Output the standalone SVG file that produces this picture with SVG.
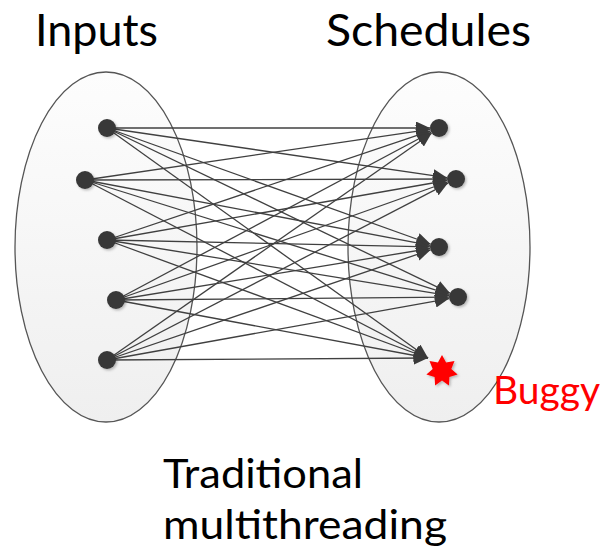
<svg xmlns="http://www.w3.org/2000/svg" width="607" height="555" viewBox="0 0 607 555">
  <defs>
    <linearGradient id="ellFill" x1="0" y1="0" x2="0" y2="1">
      <stop offset="0" stop-color="#fdfdfd"/>
      <stop offset="1" stop-color="#efefef"/>
    </linearGradient>
    <filter id="shadow" x="-50%" y="-50%" width="200%" height="200%">
      <feDropShadow dx="1.5" dy="1.5" stdDeviation="1.2" flood-color="#000" flood-opacity="0.25"/>
    </filter>
    <marker id="arrow" markerUnits="userSpaceOnUse" markerWidth="15" markerHeight="13" refX="14" refY="6.5" orient="auto">
      <path d="M0,0 L14,6.5 L0,13 z" fill="#3a3a3a"/>
    </marker>
  </defs>
  <style>
    .ell { fill: url(#ellFill); stroke: #555; stroke-width: 1.3; }
    .node { fill: #383838; filter: url(#shadow); }
    .edge { stroke: #404040; stroke-width: 1.3; fill: none; marker-end: url(#arrow); }
    .lbl { font-family: Lato, "Open Sans", "Liberation Sans", sans-serif; fill: #000; }
    .bug { font-family: Lato, "Open Sans", "Liberation Sans", sans-serif; fill: #ff0000; }
  </style>

  <g id="inputs-set"><ellipse class="ell" cx="106" cy="247" rx="91" ry="175"/></g>
  <g id="schedules-set"><ellipse class="ell" cx="439" cy="247" rx="91" ry="175"/></g>

  <g id="connectors">
    <line class="edge" x1="107" y1="128" x2="430" y2="128"/>
    <line class="edge" x1="107" y1="128" x2="447.1" y2="177.7"/>
    <line class="edge" x1="107" y1="128" x2="430.5" y2="244"/>
    <line class="edge" x1="107" y1="128" x2="449.9" y2="293.1"/>
    <line class="edge" x1="107" y1="128" x2="428" y2="358"/>

    <line class="edge" x1="85" y1="180" x2="430.1" y2="129.3"/>
    <line class="edge" x1="85" y1="180" x2="447" y2="179"/>
    <line class="edge" x1="85" y1="180" x2="430.2" y2="245.3"/>
    <line class="edge" x1="85" y1="180" x2="449.4" y2="294.3"/>
    <line class="edge" x1="85" y1="180" x2="428" y2="358"/>

    <line class="edge" x1="107" y1="240" x2="430.5" y2="130.9"/>
    <line class="edge" x1="107" y1="240" x2="447.1" y2="180.5"/>
    <line class="edge" x1="107" y1="240" x2="430" y2="246.8"/>
    <line class="edge" x1="107" y1="240" x2="449.1" y2="295.6"/>
    <line class="edge" x1="107" y1="240" x2="428" y2="358"/>

    <line class="edge" x1="116" y1="300" x2="431.1" y2="132.2"/>
    <line class="edge" x1="116" y1="300" x2="447.5" y2="182"/>
    <line class="edge" x1="116" y1="300" x2="430.1" y2="248.5"/>
    <line class="edge" x1="116" y1="300" x2="449" y2="297.1"/>
    <line class="edge" x1="116" y1="300" x2="428" y2="358"/>

    <line class="edge" x1="107" y1="360" x2="431.6" y2="133.2"/>
    <line class="edge" x1="107" y1="360" x2="448" y2="183.1"/>
    <line class="edge" x1="107" y1="360" x2="430.5" y2="249.9"/>
    <line class="edge" x1="107" y1="360" x2="449.1" y2="298.6"/>
    <line class="edge" x1="107" y1="360" x2="428" y2="358"/>
  </g>

  <g id="in1"><circle class="node" cx="107" cy="128" r="9"/></g>
  <g id="in2"><circle class="node" cx="85" cy="180" r="9"/></g>
  <g id="in3"><circle class="node" cx="107" cy="240" r="9"/></g>
  <g id="in4"><circle class="node" cx="116" cy="300" r="9"/></g>
  <g id="in5"><circle class="node" cx="107" cy="360" r="9"/></g>

  <g id="s1"><circle class="node" cx="439" cy="128" r="9"/></g>
  <g id="s2"><circle class="node" cx="456" cy="179" r="9"/></g>
  <g id="s3"><circle class="node" cx="439" cy="247" r="9"/></g>
  <g id="s4"><circle class="node" cx="458" cy="297" r="9"/></g>
  <g id="s5-buggy">
    <polygon fill="#ff0000" filter="url(#shadow)" points="442,355 446.1,362.4 454.5,361 451.3,368.9 457.6,374.6 449.4,376.9 448.9,385.4 442,380.5 435.1,385.4 434.6,376.9 426.4,374.6 432.7,368.9 429.5,361 437.9,362.4"/>
  </g>

  <g id="labels">
    <text class="lbl" x="35" y="46" font-size="44" textLength="123" lengthAdjust="spacingAndGlyphs">Inputs</text>
    <text class="lbl" x="326" y="46" font-size="44" textLength="205" lengthAdjust="spacingAndGlyphs">Schedules</text>
    <text class="bug" x="493" y="404" font-size="38" textLength="107" lengthAdjust="spacingAndGlyphs">Buggy</text>
    <text class="lbl" x="163" y="488" font-size="41" textLength="200" lengthAdjust="spacingAndGlyphs">Traditional</text>
    <text class="lbl" x="163" y="539" font-size="41" textLength="284" lengthAdjust="spacingAndGlyphs">multithreading</text>
  </g>
</svg>
